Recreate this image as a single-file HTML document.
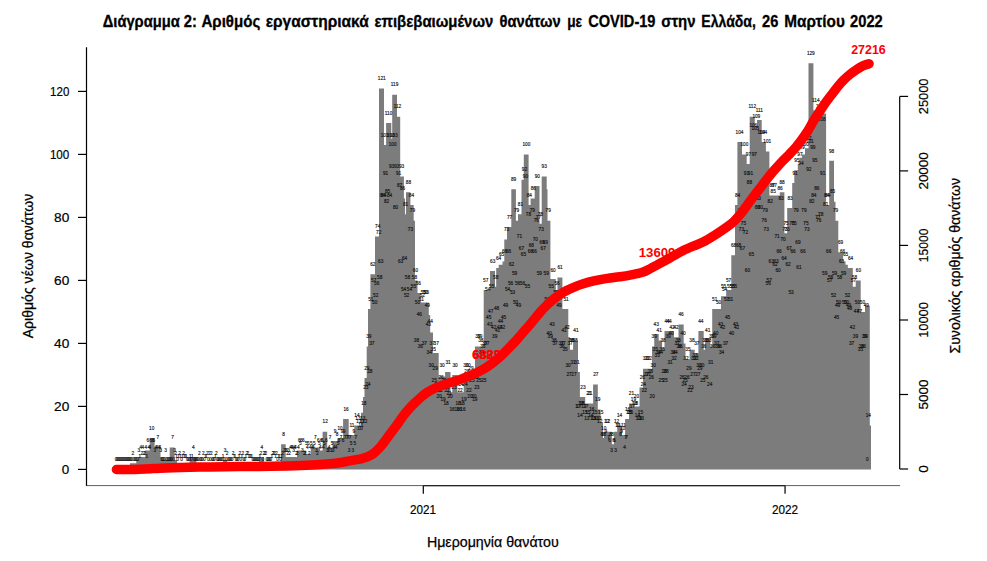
<!DOCTYPE html>
<html lang="el"><head><meta charset="utf-8"><title>Διάγραμμα 2</title>
<style>html,body{margin:0;padding:0;background:#fff}svg{display:block}text{font-family:"Liberation Sans",sans-serif}</style></head><body>
<svg width="987" height="561" viewBox="0 0 987 561">
<rect width="987" height="561" fill="#fff"/>
<path d="M130.0 469.5V463.2H136.3V460.1H138.0V456.9H145.2V450.6H149.7V438.0H154.6V447.4H160.5V456.9H162.0V460.1H169.7V447.4H174.6V460.1H177.0V463.2H189.6V456.9H196.4V463.2H222.9V460.1H227.4V463.2H258.9V456.9H263.9V463.2H281.1V444.3H285.7V456.9H297.0V450.6H306.0V453.8H310.8V447.4H320.0V450.6H322.6V431.7H327.2V447.4H332.5V441.1H337.5V438.0H343.1V419.1H348.7V434.9H354.3V425.4H361.0V412.8H363.0V397.1H364.5V378.1H366.7V346.6H368.0V308.9H370.4V274.2H375.0V236.4H379.0V88.4H384.0V145.1H386.1V123.0H391.3V138.8H392.2V94.7H397.0V116.7H400.2V176.6H403.9V198.6H405.0V214.3H406.0V192.3H410.4V204.9H413.7V220.7H415.0V280.5H417.5V293.1H420.7V302.6H428.8V315.1H430.2V332.5H433.0V352.9H438.7V376.6H445.1V371.9H450.5V392.3H452.3V375.0H457.3V392.3H463.7V375.0H475.0V346.6H483.7V290.0H490.0V271.1H495.0V286.8H496.2V267.9H498.7V264.8H502.5V261.6H504.3V239.6H507.0V227.0H511.3V189.2H515.9V220.7H518.0V214.3H521.5V179.7H523.8V154.5H528.6V204.9H530.6V198.6H534.7V186.0H539.5V223.8H541.7V176.6H546.7V189.2H547.5V220.7H550.4V278.9H555.8V293.1H557.5V277.4H562.4V308.9H563.3V308.9H568.3V337.2H570.0V349.8H573.1V340.4H578.0V371.9H579.9V397.1H585.2V403.4H593.1V384.4H597.8V409.6H600.6V422.2H603.0V438.0H604.0V431.7H611.9V444.3H614.0V431.7H617.2V425.4H621.9V434.9H625.1V419.1H629.0V403.4H634.2V406.5H639.5V387.6H643.0V368.7H652.0V346.6H654.2V334.1H658.7V340.4H662.1V348.2H664.5V330.9H673.9V337.2H678.5V324.6H683.7V343.5H685.5V359.2H689.6V349.8H694.7V352.9H698.4V330.9H703.7V349.8H705.1V340.4H710.4V346.6H712.2V308.9H721.0V296.2H726.2V290.0H731.3V255.3H735.0V204.9H737.4V141.9H742.0V154.5H746.7V163.9H749.7V116.7H754.8V126.2H757.0V119.9H761.7V141.9H765.9V151.4H769.4V195.4H779.8V192.3H784.4V233.2H787.2V208.1H792.2V182.9H794.3V170.2H797.8V163.9H799.5V157.7H802.0V154.5H805.0V148.2H808.5V63.2H813.4V110.4H818.2V116.7H820.7V113.6H826.1V204.9H829.2V160.8H834.0V201.8H835.5V220.7H838.3V252.2H843.1V261.6H845.5V264.8H847.8V267.9H852.8V286.8H855.7V280.5H860.7V312.0H865.0V305.7H869.8V425.4H871.0V469.5Z" fill="#7c7c7c"/>
<g font-size="4.7" fill="#111" stroke="#111" stroke-width="0.14" text-anchor="middle">
<text x="116.1" y="461.2">0</text><text x="117.1" y="461.2">0</text><text x="118.0" y="461.2">0</text><text x="119.0" y="461.2">0</text><text x="120.0" y="461.2">0</text><text x="121.0" y="461.2">0</text><text x="122.0" y="461.2">0</text><text x="123.0" y="461.2">0</text>
<text x="124.0" y="461.2">0</text><text x="125.0" y="461.2">0</text><text x="126.0" y="461.2">0</text><text x="127.0" y="461.2">0</text><text x="128.0" y="461.2">0</text><text x="128.9" y="461.2">0</text><text x="129.9" y="461.2">0</text><text x="130.9" y="461.2">0</text>
<text x="131.9" y="461.2">0</text><text x="132.9" y="454.9">2</text><text x="133.9" y="461.2">0</text><text x="134.9" y="461.2">0</text><text x="135.9" y="461.2">0</text><text x="136.9" y="461.2">0</text><text x="137.9" y="461.2">0</text><text x="138.9" y="451.8">3</text>
<text x="139.8" y="458.1">1</text><text x="140.8" y="448.6">4</text><text x="141.8" y="454.9">2</text><text x="142.8" y="448.6">4</text><text x="143.8" y="454.9">2</text><text x="144.8" y="454.9">2</text><text x="145.8" y="448.6">4</text><text x="146.8" y="458.1">1</text>
<text x="147.8" y="442.3">6</text><text x="148.8" y="448.6">4</text><text x="149.8" y="448.6">4</text><text x="150.7" y="442.3">6</text><text x="151.7" y="429.7">10</text><text x="152.7" y="442.3">6</text><text x="153.7" y="442.3">6</text><text x="154.7" y="451.8">3</text>
<text x="155.7" y="448.6">4</text><text x="156.7" y="448.6">4</text><text x="157.7" y="439.1">7</text><text x="158.7" y="448.6">4</text><text x="159.7" y="448.6">4</text><text x="160.7" y="451.8">3</text><text x="161.7" y="461.2">0</text><text x="162.6" y="461.2">0</text>
<text x="163.6" y="461.2">0</text><text x="164.6" y="461.2">0</text><text x="165.6" y="451.8">3</text><text x="166.6" y="461.2">0</text><text x="167.6" y="461.2">0</text><text x="168.6" y="461.2">0</text><text x="169.6" y="461.2">0</text><text x="170.6" y="461.2">0</text>
<text x="171.6" y="461.2">0</text><text x="172.6" y="439.1">7</text><text x="173.5" y="461.2">0</text><text x="174.5" y="451.8">3</text><text x="175.5" y="454.9">2</text><text x="176.5" y="458.1">1</text><text x="177.5" y="461.2">0</text><text x="178.5" y="458.1">1</text>
<text x="179.5" y="454.9">2</text><text x="180.5" y="458.1">1</text><text x="181.5" y="461.2">0</text><text x="182.5" y="458.1">1</text><text x="183.5" y="454.9">2</text><text x="184.4" y="458.1">1</text><text x="185.4" y="458.1">1</text><text x="186.4" y="458.1">1</text>
<text x="187.4" y="461.2">0</text><text x="188.4" y="461.2">0</text><text x="189.4" y="461.2">0</text><text x="190.4" y="458.1">1</text><text x="191.4" y="461.2">0</text><text x="192.4" y="458.1">1</text><text x="193.4" y="448.6">4</text><text x="194.4" y="461.2">0</text>
<text x="195.3" y="461.2">0</text><text x="196.3" y="461.2">0</text><text x="197.3" y="461.2">0</text><text x="198.3" y="461.2">0</text><text x="199.3" y="454.9">2</text><text x="200.3" y="461.2">0</text><text x="201.3" y="461.2">0</text><text x="202.3" y="461.2">0</text>
<text x="203.3" y="454.9">2</text><text x="204.3" y="461.2">0</text><text x="205.3" y="458.1">1</text><text x="206.3" y="458.1">1</text><text x="207.2" y="454.9">2</text><text x="208.2" y="461.2">0</text><text x="209.2" y="454.9">2</text><text x="210.2" y="461.2">0</text>
<text x="211.2" y="454.9">2</text><text x="212.2" y="461.2">0</text><text x="213.2" y="461.2">0</text><text x="214.2" y="461.2">0</text><text x="215.2" y="458.1">1</text><text x="216.2" y="454.9">2</text><text x="217.2" y="461.2">0</text><text x="218.1" y="461.2">0</text>
<text x="219.1" y="461.2">0</text><text x="220.1" y="461.2">0</text><text x="221.1" y="461.2">0</text><text x="222.1" y="461.2">0</text><text x="223.1" y="458.1">1</text><text x="224.1" y="461.2">0</text><text x="225.1" y="451.8">3</text><text x="226.1" y="461.2">0</text>
<text x="227.1" y="454.9">2</text><text x="228.1" y="461.2">0</text><text x="229.0" y="461.2">0</text><text x="230.0" y="461.2">0</text><text x="231.0" y="461.2">0</text><text x="232.0" y="461.2">0</text><text x="233.0" y="454.9">2</text><text x="234.0" y="458.1">1</text>
<text x="235.0" y="458.1">1</text><text x="236.0" y="461.2">0</text><text x="237.0" y="461.2">0</text><text x="238.0" y="461.2">0</text><text x="239.0" y="458.1">1</text><text x="239.9" y="454.9">2</text><text x="240.9" y="461.2">0</text><text x="241.9" y="458.1">1</text>
<text x="242.9" y="454.9">2</text><text x="243.9" y="461.2">0</text><text x="244.9" y="461.2">0</text><text x="245.9" y="458.1">1</text><text x="246.9" y="454.9">2</text><text x="247.9" y="454.9">2</text><text x="248.9" y="458.1">1</text><text x="249.9" y="458.1">1</text>
<text x="250.8" y="458.1">1</text><text x="251.8" y="458.1">1</text><text x="252.8" y="461.2">0</text><text x="253.8" y="461.2">0</text><text x="254.8" y="461.2">0</text><text x="255.8" y="461.2">0</text><text x="256.8" y="461.2">0</text><text x="257.8" y="461.2">0</text>
<text x="258.8" y="461.2">0</text><text x="259.8" y="458.1">1</text><text x="260.8" y="454.9">2</text><text x="261.8" y="448.6">4</text><text x="262.7" y="461.2">0</text><text x="263.7" y="454.9">2</text><text x="264.7" y="454.9">2</text><text x="265.7" y="454.9">2</text>
<text x="266.7" y="461.2">0</text><text x="267.7" y="461.2">0</text><text x="268.7" y="461.2">0</text><text x="269.7" y="461.2">0</text><text x="270.7" y="461.2">0</text><text x="271.7" y="458.1">1</text><text x="272.7" y="454.9">2</text><text x="273.6" y="454.9">2</text>
<text x="274.6" y="454.9">2</text><text x="275.6" y="458.1">1</text><text x="276.6" y="454.9">2</text><text x="277.6" y="461.2">0</text><text x="278.6" y="458.1">1</text><text x="279.6" y="458.1">1</text><text x="280.6" y="461.2">0</text><text x="281.6" y="458.1">1</text>
<text x="282.6" y="454.9">2</text><text x="283.6" y="436.0">8</text><text x="284.5" y="451.8">3</text><text x="285.5" y="451.8">3</text><text x="286.5" y="451.8">3</text><text x="287.5" y="454.9">2</text><text x="288.5" y="451.8">3</text><text x="289.5" y="454.9">2</text>
<text x="290.5" y="448.6">4</text><text x="291.5" y="448.6">4</text><text x="292.5" y="448.6">4</text><text x="293.5" y="451.8">3</text><text x="294.5" y="448.6">4</text><text x="295.4" y="448.6">4</text><text x="296.4" y="454.9">2</text><text x="297.4" y="454.9">2</text>
<text x="298.4" y="448.6">4</text><text x="299.4" y="442.3">6</text><text x="300.4" y="445.4">5</text><text x="301.4" y="442.3">6</text><text x="302.4" y="451.8">3</text><text x="303.4" y="442.3">6</text><text x="304.4" y="454.9">2</text><text x="305.4" y="454.9">2</text>
<text x="306.4" y="445.4">5</text><text x="307.3" y="448.6">4</text><text x="308.3" y="445.4">5</text><text x="309.3" y="454.9">2</text><text x="310.3" y="448.6">4</text><text x="311.3" y="445.4">5</text><text x="312.3" y="448.6">4</text><text x="313.3" y="448.6">4</text>
<text x="314.3" y="445.4">5</text><text x="315.3" y="439.1">7</text><text x="316.3" y="451.8">3</text><text x="317.3" y="454.9">2</text><text x="318.2" y="442.3">6</text><text x="319.2" y="445.4">5</text><text x="320.2" y="448.6">4</text><text x="321.2" y="442.3">6</text>
<text x="322.2" y="442.3">6</text><text x="323.2" y="448.6">4</text><text x="324.2" y="445.4">5</text><text x="325.2" y="423.4">12</text><text x="326.2" y="442.3">6</text><text x="327.2" y="451.8">3</text><text x="328.2" y="451.8">3</text><text x="329.1" y="448.6">4</text>
<text x="330.1" y="439.1">7</text><text x="331.1" y="451.8">3</text><text x="332.1" y="445.4">5</text><text x="333.1" y="451.8">3</text><text x="334.1" y="448.6">4</text><text x="335.1" y="432.8">9</text><text x="336.1" y="448.6">4</text><text x="337.1" y="436.0">8</text>
<text x="338.1" y="445.4">5</text><text x="339.1" y="442.3">6</text><text x="340.0" y="429.7">10</text><text x="341.0" y="439.1">7</text><text x="342.0" y="432.8">9</text><text x="343.0" y="442.3">6</text><text x="344.0" y="432.8">9</text><text x="345.0" y="439.1">7</text>
<text x="346.0" y="410.8">16</text><text x="347.0" y="439.1">7</text><text x="348.0" y="439.1">7</text><text x="349.0" y="451.8">3</text><text x="350.0" y="439.1">7</text><text x="351.0" y="445.4">5</text><text x="351.9" y="426.6">11</text><text x="352.9" y="451.8">3</text>
<text x="353.9" y="432.8">9</text><text x="354.9" y="445.4">5</text><text x="355.9" y="439.1">7</text><text x="356.9" y="417.1">14</text><text x="357.9" y="420.2">13</text><text x="358.9" y="423.4">12</text><text x="359.9" y="429.7">10</text><text x="360.9" y="426.6">11</text>
<text x="361.9" y="423.4">12</text><text x="362.8" y="420.2">13</text><text x="363.8" y="404.5">18</text><text x="364.8" y="423.4">12</text><text x="365.8" y="388.8">23</text><text x="366.8" y="369.8">29</text><text x="367.8" y="385.6">24</text><text x="368.8" y="338.3">39</text>
<text x="369.8" y="373.0">28</text><text x="370.8" y="300.6">51</text><text x="371.8" y="344.6">37</text><text x="372.8" y="265.9">62</text><text x="373.7" y="281.7">57</text><text x="374.7" y="303.7">50</text><text x="375.7" y="297.4">52</text><text x="376.7" y="284.8">56</text>
<text x="377.7" y="228.1">74</text><text x="378.7" y="234.4">72</text><text x="379.7" y="278.5">58</text><text x="380.7" y="262.8">63</text><text x="381.7" y="80.1">121</text><text x="382.7" y="196.6">84</text><text x="383.7" y="196.6">84</text><text x="384.6" y="136.8">103</text>
<text x="385.6" y="174.6">91</text><text x="386.6" y="202.9">82</text><text x="387.6" y="193.4">85</text><text x="388.6" y="114.7">110</text><text x="389.6" y="196.6">84</text><text x="390.6" y="136.8">103</text><text x="391.6" y="168.2">93</text><text x="392.6" y="146.2">100</text>
<text x="393.6" y="136.8">103</text><text x="394.6" y="86.4">119</text><text x="395.6" y="209.2">80</text><text x="396.5" y="168.2">93</text><text x="397.5" y="108.4">112</text><text x="398.5" y="174.6">91</text><text x="399.5" y="187.1">87</text><text x="400.5" y="262.8">63</text>
<text x="401.5" y="168.2">93</text><text x="402.5" y="190.3">86</text><text x="403.5" y="291.1">54</text><text x="404.5" y="259.6">64</text><text x="405.5" y="206.0">81</text><text x="406.5" y="297.4">52</text><text x="407.4" y="278.5">58</text><text x="408.4" y="184.0">88</text>
<text x="409.4" y="291.1">54</text><text x="410.4" y="231.2">73</text><text x="411.4" y="196.6">84</text><text x="412.4" y="212.3">79</text><text x="413.4" y="287.9">55</text><text x="414.4" y="278.5">58</text><text x="415.4" y="272.2">60</text><text x="416.4" y="341.5">38</text>
<text x="417.4" y="303.7">50</text><text x="418.3" y="284.8">56</text><text x="419.3" y="316.3">46</text><text x="420.3" y="347.8">36</text><text x="421.3" y="300.6">51</text><text x="422.3" y="297.4">52</text><text x="423.3" y="294.2">53</text><text x="424.3" y="344.6">37</text>
<text x="425.3" y="294.2">53</text><text x="426.3" y="294.2">53</text><text x="427.3" y="306.8">49</text><text x="428.3" y="325.8">43</text><text x="429.2" y="354.1">34</text><text x="430.2" y="322.6">44</text><text x="431.2" y="366.7">30</text><text x="432.2" y="344.6">37</text>
<text x="433.2" y="350.9">35</text><text x="434.2" y="382.4">25</text><text x="435.2" y="369.8">29</text><text x="436.2" y="344.6">37</text><text x="437.2" y="385.6">24</text><text x="438.2" y="391.9">22</text><text x="439.2" y="398.2">20</text><text x="440.1" y="391.9">22</text>
<text x="441.1" y="379.3">26</text><text x="442.1" y="366.7">30</text><text x="443.1" y="401.3">19</text><text x="444.1" y="382.4">25</text><text x="445.1" y="388.8">23</text><text x="446.1" y="404.5">18</text><text x="447.1" y="391.9">22</text><text x="448.1" y="363.6">31</text>
<text x="449.1" y="395.1">21</text><text x="450.1" y="398.2">20</text><text x="451.1" y="385.6">24</text><text x="452.0" y="410.8">16</text><text x="453.0" y="385.6">24</text><text x="454.0" y="388.8">23</text><text x="455.0" y="366.7">30</text><text x="456.0" y="385.6">24</text>
<text x="457.0" y="410.8">16</text><text x="458.0" y="404.5">18</text><text x="459.0" y="410.8">16</text><text x="460.0" y="391.9">22</text><text x="461.0" y="385.6">24</text><text x="462.0" y="404.5">18</text><text x="462.9" y="410.8">16</text><text x="463.9" y="401.3">19</text>
<text x="464.9" y="385.6">24</text><text x="465.9" y="366.7">30</text><text x="466.9" y="373.0">28</text><text x="467.9" y="366.7">30</text><text x="468.9" y="391.9">22</text><text x="469.9" y="398.2">20</text><text x="470.9" y="369.8">29</text><text x="471.9" y="382.4">25</text>
<text x="472.9" y="376.1">27</text><text x="473.8" y="398.2">20</text><text x="474.8" y="401.3">19</text><text x="475.8" y="379.3">26</text><text x="476.8" y="388.8">23</text><text x="477.8" y="338.3">39</text><text x="478.8" y="382.4">25</text><text x="479.8" y="338.3">39</text>
<text x="480.8" y="341.5">38</text><text x="481.8" y="354.1">34</text><text x="482.8" y="347.8">36</text><text x="483.8" y="382.4">25</text><text x="484.7" y="344.6">37</text><text x="485.7" y="281.7">57</text><text x="486.7" y="344.6">37</text><text x="487.7" y="291.1">54</text>
<text x="488.7" y="319.4">45</text><text x="489.7" y="325.8">43</text><text x="490.7" y="313.2">47</text><text x="491.7" y="287.9">55</text><text x="492.7" y="262.8">63</text><text x="493.7" y="328.9">42</text><text x="494.7" y="338.3">39</text><text x="495.7" y="278.5">58</text>
<text x="496.6" y="310.0">48</text><text x="497.6" y="332.1">41</text><text x="498.6" y="259.6">64</text><text x="499.6" y="328.9">42</text><text x="500.6" y="322.6">44</text><text x="501.6" y="256.4">65</text><text x="502.6" y="328.9">42</text><text x="503.6" y="319.4">45</text>
<text x="504.6" y="253.3">66</text><text x="505.6" y="306.8">49</text><text x="506.6" y="231.2">73</text><text x="507.5" y="291.1">54</text><text x="508.5" y="253.3">66</text><text x="509.5" y="218.7">77</text><text x="510.5" y="284.8">56</text><text x="511.5" y="265.9">62</text>
<text x="512.5" y="294.2">53</text><text x="513.5" y="180.9">89</text><text x="514.5" y="275.3">59</text><text x="515.5" y="303.7">50</text><text x="516.5" y="212.3">79</text><text x="517.5" y="284.8">56</text><text x="518.4" y="306.8">49</text><text x="519.4" y="237.5">71</text>
<text x="520.4" y="206.0">81</text><text x="521.4" y="250.2">67</text><text x="522.4" y="284.8">56</text><text x="523.4" y="256.4">65</text><text x="524.4" y="171.4">92</text><text x="525.4" y="177.7">90</text><text x="526.4" y="146.2">100</text><text x="527.4" y="287.9">55</text>
<text x="528.4" y="215.5">78</text><text x="529.3" y="196.6">84</text><text x="530.3" y="253.3">66</text><text x="531.3" y="247.0">68</text><text x="532.3" y="212.3">79</text><text x="533.3" y="190.3">86</text><text x="534.3" y="253.3">66</text><text x="535.3" y="240.7">70</text>
<text x="536.3" y="221.8">76</text><text x="537.3" y="177.7">90</text><text x="538.3" y="218.7">77</text><text x="539.3" y="275.3">59</text><text x="540.3" y="215.5">78</text><text x="541.2" y="231.2">73</text><text x="542.2" y="243.8">69</text><text x="543.2" y="250.2">67</text>
<text x="544.2" y="168.2">93</text><text x="545.2" y="243.8">69</text><text x="546.2" y="275.3">59</text><text x="547.2" y="300.6">51</text><text x="548.2" y="212.3">79</text><text x="549.2" y="335.2">40</text><text x="550.2" y="338.3">39</text><text x="551.2" y="287.9">55</text>
<text x="552.1" y="325.8">43</text><text x="553.1" y="272.2">60</text><text x="554.1" y="341.5">38</text><text x="555.1" y="344.6">37</text><text x="556.1" y="294.2">53</text><text x="557.1" y="284.8">56</text><text x="558.1" y="294.2">53</text><text x="559.1" y="306.8">49</text>
<text x="560.1" y="269.1">61</text><text x="561.1" y="344.6">37</text><text x="562.1" y="347.8">36</text><text x="563.0" y="344.6">37</text><text x="564.0" y="332.1">41</text><text x="565.0" y="350.9">35</text><text x="566.0" y="300.6">51</text><text x="567.0" y="328.9">42</text>
<text x="568.0" y="366.7">30</text><text x="569.0" y="376.1">27</text><text x="570.0" y="344.6">37</text><text x="571.0" y="341.5">38</text><text x="572.0" y="341.5">38</text><text x="573.0" y="363.6">31</text><text x="573.9" y="376.1">27</text><text x="574.9" y="341.5">38</text>
<text x="575.9" y="332.1">41</text><text x="576.9" y="363.6">31</text><text x="577.9" y="407.6">17</text><text x="578.9" y="407.6">17</text><text x="579.9" y="417.1">14</text><text x="580.9" y="404.5">18</text><text x="581.9" y="404.5">18</text><text x="582.9" y="388.8">23</text>
<text x="583.9" y="407.6">17</text><text x="584.9" y="413.9">15</text><text x="585.8" y="407.6">17</text><text x="586.8" y="420.2">13</text><text x="587.8" y="413.9">15</text><text x="588.8" y="395.1">21</text><text x="589.8" y="395.1">21</text><text x="590.8" y="417.1">14</text>
<text x="591.8" y="410.8">16</text><text x="592.8" y="420.2">13</text><text x="593.8" y="420.2">13</text><text x="594.8" y="413.9">15</text><text x="595.8" y="376.1">27</text><text x="596.7" y="420.2">13</text><text x="597.7" y="401.3">19</text><text x="598.7" y="420.2">13</text>
<text x="599.7" y="423.4">12</text><text x="600.7" y="413.9">15</text><text x="601.7" y="436.0">8</text><text x="602.7" y="436.0">8</text><text x="603.7" y="429.7">10</text><text x="604.7" y="436.0">8</text><text x="605.7" y="432.8">9</text><text x="606.7" y="423.4">12</text>
<text x="607.6" y="423.4">12</text><text x="608.6" y="439.1">7</text><text x="609.6" y="442.3">6</text><text x="610.6" y="436.0">8</text><text x="611.6" y="451.8">3</text><text x="612.6" y="436.0">8</text><text x="613.6" y="442.3">6</text><text x="614.6" y="442.3">6</text>
<text x="615.6" y="451.8">3</text><text x="616.6" y="423.4">12</text><text x="617.6" y="426.6">11</text><text x="618.5" y="426.6">11</text><text x="619.5" y="417.1">14</text><text x="620.5" y="436.0">8</text><text x="621.5" y="432.8">9</text><text x="622.5" y="429.7">10</text>
<text x="623.5" y="426.6">11</text><text x="624.5" y="448.6">4</text><text x="625.5" y="439.1">7</text><text x="626.5" y="439.1">7</text><text x="627.5" y="410.8">16</text><text x="628.5" y="413.9">15</text><text x="629.4" y="413.9">15</text><text x="630.4" y="413.9">15</text>
<text x="631.4" y="395.1">21</text><text x="632.4" y="407.6">17</text><text x="633.4" y="401.3">19</text><text x="634.4" y="404.5">18</text><text x="635.4" y="404.5">18</text><text x="636.4" y="398.2">20</text><text x="637.4" y="417.1">14</text><text x="638.4" y="420.2">13</text>
<text x="639.4" y="420.2">13</text><text x="640.4" y="413.9">15</text><text x="641.3" y="420.2">13</text><text x="642.3" y="379.3">26</text><text x="643.3" y="385.6">24</text><text x="644.3" y="391.9">22</text><text x="645.3" y="360.4">32</text><text x="646.3" y="376.1">27</text>
<text x="647.3" y="360.4">32</text><text x="648.3" y="376.1">27</text><text x="649.3" y="360.4">32</text><text x="650.3" y="373.0">28</text><text x="651.3" y="379.3">26</text><text x="652.2" y="398.2">20</text><text x="653.2" y="366.7">30</text><text x="654.2" y="338.3">39</text>
<text x="655.2" y="350.9">35</text><text x="656.2" y="325.8">43</text><text x="657.2" y="357.2">33</text><text x="658.2" y="354.1">34</text><text x="659.2" y="332.1">41</text><text x="660.2" y="354.1">34</text><text x="661.2" y="382.4">25</text><text x="662.2" y="350.9">35</text>
<text x="663.1" y="341.5">38</text><text x="664.1" y="373.0">28</text><text x="665.1" y="382.4">25</text><text x="666.1" y="373.0">28</text><text x="667.1" y="322.6">44</text><text x="668.1" y="338.3">39</text><text x="669.1" y="322.6">44</text><text x="670.1" y="363.6">31</text>
<text x="671.1" y="335.2">40</text><text x="672.1" y="328.9">42</text><text x="673.1" y="354.1">34</text><text x="674.0" y="360.4">32</text><text x="675.0" y="354.1">34</text><text x="676.0" y="328.9">42</text><text x="677.0" y="344.6">37</text><text x="678.0" y="341.5">38</text>
<text x="679.0" y="347.8">36</text><text x="680.0" y="347.8">36</text><text x="681.0" y="316.3">46</text><text x="682.0" y="379.3">26</text><text x="683.0" y="335.2">40</text><text x="684.0" y="385.6">24</text><text x="685.0" y="382.4">25</text><text x="685.9" y="360.4">32</text>
<text x="686.9" y="379.3">26</text><text x="687.9" y="350.9">35</text><text x="688.9" y="369.8">29</text><text x="689.9" y="391.9">22</text><text x="690.9" y="388.8">23</text><text x="691.9" y="341.5">38</text><text x="692.9" y="376.1">27</text><text x="693.9" y="360.4">32</text>
<text x="694.9" y="357.2">33</text><text x="695.9" y="360.4">32</text><text x="696.8" y="344.6">37</text><text x="697.8" y="376.1">27</text><text x="698.8" y="366.7">30</text><text x="699.8" y="369.8">29</text><text x="700.8" y="322.6">44</text><text x="701.8" y="366.7">30</text>
<text x="702.8" y="382.4">25</text><text x="703.8" y="347.8">36</text><text x="704.8" y="341.5">38</text><text x="705.8" y="379.3">26</text><text x="706.8" y="341.5">38</text><text x="707.7" y="332.1">41</text><text x="708.7" y="341.5">38</text><text x="709.7" y="385.6">24</text>
<text x="710.7" y="363.6">31</text><text x="711.7" y="338.3">39</text><text x="712.7" y="347.8">36</text><text x="713.7" y="338.3">39</text><text x="714.7" y="300.6">51</text><text x="715.7" y="335.2">40</text><text x="716.7" y="344.6">37</text><text x="717.7" y="347.8">36</text>
<text x="718.6" y="303.7">50</text><text x="719.6" y="347.8">36</text><text x="720.6" y="325.8">43</text><text x="721.6" y="354.1">34</text><text x="722.6" y="328.9">42</text><text x="723.6" y="287.9">55</text><text x="724.6" y="291.1">54</text><text x="725.6" y="344.6">37</text>
<text x="726.6" y="300.6">51</text><text x="727.6" y="319.4">45</text><text x="728.6" y="281.7">57</text><text x="729.6" y="287.9">55</text><text x="730.5" y="300.6">51</text><text x="731.5" y="335.2">40</text><text x="732.5" y="287.9">55</text><text x="733.5" y="247.0">68</text>
<text x="734.5" y="287.9">55</text><text x="735.5" y="325.8">43</text><text x="736.5" y="328.9">42</text><text x="737.5" y="196.6">84</text><text x="738.5" y="247.0">68</text><text x="739.5" y="133.6">104</text><text x="740.5" y="212.3">79</text><text x="741.4" y="231.2">73</text>
<text x="742.4" y="250.2">67</text><text x="743.4" y="224.9">75</text><text x="744.4" y="146.2">100</text><text x="745.4" y="234.4">72</text><text x="746.4" y="174.6">91</text><text x="747.4" y="272.2">60</text><text x="748.4" y="155.6">97</text><text x="749.4" y="184.0">88</text>
<text x="750.4" y="174.6">91</text><text x="751.4" y="256.4">65</text><text x="752.3" y="108.4">112</text><text x="753.3" y="127.3">106</text><text x="754.3" y="155.6">97</text><text x="755.3" y="130.4">105</text><text x="756.3" y="117.9">109</text><text x="757.3" y="209.2">80</text>
<text x="758.3" y="199.8">83</text><text x="759.3" y="111.6">111</text><text x="760.3" y="209.2">80</text><text x="761.3" y="133.6">104</text><text x="762.3" y="184.0">88</text><text x="763.2" y="133.6">104</text><text x="764.2" y="221.8">76</text><text x="765.2" y="212.3">79</text>
<text x="766.2" y="231.2">73</text><text x="767.2" y="143.1">101</text><text x="768.2" y="284.8">56</text><text x="769.2" y="281.7">57</text><text x="770.2" y="202.9">82</text><text x="771.2" y="262.8">63</text><text x="772.2" y="187.1">87</text><text x="773.2" y="193.4">85</text>
<text x="774.2" y="187.1">87</text><text x="775.1" y="265.9">62</text><text x="776.1" y="262.8">63</text><text x="777.1" y="237.5">71</text><text x="778.1" y="272.2">60</text><text x="779.1" y="253.3">66</text><text x="780.1" y="190.3">86</text><text x="781.1" y="199.8">83</text>
<text x="782.1" y="184.0">88</text><text x="783.1" y="240.7">70</text><text x="784.1" y="259.6">64</text><text x="785.1" y="231.2">73</text><text x="786.0" y="224.9">75</text><text x="787.0" y="231.2">73</text><text x="788.0" y="265.9">62</text><text x="789.0" y="250.2">67</text>
<text x="790.0" y="199.8">83</text><text x="791.0" y="294.2">53</text><text x="792.0" y="224.9">75</text><text x="793.0" y="253.3">66</text><text x="794.0" y="224.9">75</text><text x="795.0" y="174.6">91</text><text x="796.0" y="212.3">79</text><text x="796.9" y="161.9">95</text>
<text x="797.9" y="243.8">69</text><text x="798.9" y="269.1">61</text><text x="799.9" y="155.6">97</text><text x="800.9" y="165.1">94</text><text x="801.9" y="149.4">99</text><text x="802.9" y="253.3">66</text><text x="803.9" y="212.3">79</text><text x="804.9" y="146.2">100</text>
<text x="805.9" y="224.9">75</text><text x="806.9" y="231.2">73</text><text x="807.8" y="139.9">102</text><text x="808.8" y="171.4">92</text><text x="809.8" y="143.1">101</text><text x="810.8" y="54.9">129</text><text x="811.8" y="202.9">82</text><text x="812.8" y="149.4">99</text>
<text x="813.8" y="196.6">84</text><text x="814.8" y="161.9">95</text><text x="815.8" y="102.1">114</text><text x="816.8" y="190.3">86</text><text x="817.8" y="218.7">77</text><text x="818.7" y="221.8">76</text><text x="819.7" y="108.4">112</text><text x="820.7" y="215.5">78</text>
<text x="821.7" y="121.0">108</text><text x="822.7" y="174.6">91</text><text x="823.7" y="105.3">113</text><text x="824.7" y="275.3">59</text><text x="825.7" y="206.0">81</text><text x="826.7" y="196.6">84</text><text x="827.7" y="196.6">84</text><text x="828.7" y="253.3">66</text>
<text x="829.7" y="281.7">57</text><text x="830.6" y="278.5">58</text><text x="831.6" y="152.5">98</text><text x="832.6" y="193.4">85</text><text x="833.6" y="297.4">52</text><text x="834.6" y="275.3">59</text><text x="835.6" y="212.3">79</text><text x="836.6" y="319.4">45</text>
<text x="837.6" y="306.8">49</text><text x="838.6" y="303.7">50</text><text x="839.6" y="278.5">58</text><text x="840.6" y="243.8">69</text><text x="841.5" y="262.8">63</text><text x="842.5" y="253.3">66</text><text x="843.5" y="275.3">59</text><text x="844.5" y="303.7">50</text>
<text x="845.5" y="256.4">65</text><text x="846.5" y="303.7">50</text><text x="847.5" y="297.4">52</text><text x="848.5" y="306.8">49</text><text x="849.5" y="310.0">48</text><text x="850.5" y="259.6">64</text><text x="851.5" y="344.6">37</text><text x="852.4" y="328.9">42</text>
<text x="853.4" y="281.7">57</text><text x="854.4" y="278.5">58</text><text x="855.4" y="338.3">39</text><text x="856.4" y="313.2">47</text><text x="857.4" y="303.7">50</text><text x="858.4" y="272.2">60</text><text x="859.4" y="313.2">47</text><text x="860.4" y="350.9">35</text>
<text x="861.4" y="347.8">36</text><text x="862.4" y="303.7">50</text><text x="863.3" y="347.8">36</text><text x="864.3" y="338.3">39</text><text x="865.3" y="338.3">39</text><text x="866.3" y="306.8">49</text><text x="867.3" y="461.2">0</text><text x="868.3" y="417.1">14</text>

</g>
<path d="M116.4 469.5C119.5 469.5 129.3 469.5 135.0 469.4C140.7 469.3 145.6 468.9 150.7 468.7C155.8 468.4 160.6 468.1 165.6 467.9C170.6 467.7 173.1 467.6 180.5 467.4C187.9 467.2 200.1 467.0 210.0 466.9C219.9 466.8 229.9 466.7 240.0 466.6C250.1 466.5 260.6 466.5 270.8 466.3C281.1 466.1 291.6 465.8 301.5 465.4C311.4 465.0 323.2 464.3 330.0 463.8C336.8 463.3 338.3 462.9 342.5 462.2C346.7 461.5 351.9 460.5 355.0 459.9C358.1 459.3 359.1 459.3 361.2 458.8C363.3 458.3 365.3 457.8 367.4 456.9C369.5 456.0 371.6 455.0 373.7 453.4C375.8 451.8 377.8 449.7 379.9 447.4C382.0 445.1 384.1 442.2 386.2 439.4C388.3 436.6 390.3 433.6 392.4 430.8C394.5 428.0 396.9 424.9 398.6 422.6C400.3 420.3 400.8 419.0 402.5 416.8C404.2 414.6 406.6 411.5 408.7 409.2C410.8 406.9 412.9 404.8 415.0 402.8C417.1 400.8 419.1 398.8 421.2 397.0C423.3 395.2 425.3 393.7 427.4 392.3C429.5 390.9 431.6 389.8 433.7 388.8C435.8 387.8 437.8 386.9 439.9 386.1C442.0 385.3 444.1 384.6 446.2 383.9C448.3 383.2 449.7 382.8 452.4 381.9C455.1 381.0 458.7 380.0 462.5 378.6C466.3 377.2 470.9 375.6 475.0 373.6C479.1 371.6 483.2 369.6 487.4 366.8C491.5 364.0 495.7 360.7 499.9 357.0C504.1 353.3 509.0 347.9 512.4 344.4C515.8 340.9 517.3 339.1 520.0 336.0C522.7 332.9 526.2 328.9 528.7 326.0C531.2 323.1 532.9 321.0 535.0 318.5C537.1 316.0 539.1 313.3 541.2 311.0C543.3 308.7 545.3 306.6 547.4 304.6C549.5 302.6 551.6 300.7 553.7 299.0C555.8 297.3 557.8 296.0 559.9 294.6C562.0 293.2 564.1 291.9 566.2 290.8C568.3 289.7 569.7 288.9 572.4 287.8C575.1 286.7 578.7 285.2 582.5 284.0C586.3 282.8 590.9 281.6 595.0 280.7C599.1 279.8 603.2 279.0 607.4 278.4C611.5 277.8 615.7 277.4 619.9 276.8C624.1 276.2 628.6 275.4 632.4 274.6C636.2 273.9 639.5 273.3 642.5 272.3C645.5 271.3 647.6 270.0 650.7 268.4C653.9 266.8 657.8 264.6 661.4 262.6C665.0 260.7 668.5 258.7 672.1 256.7C675.7 254.7 679.2 252.6 682.8 250.8C686.4 249.0 690.2 247.4 693.5 246.0C696.8 244.6 698.9 244.1 702.5 242.3C706.1 240.5 710.9 237.6 715.0 235.0C719.1 232.4 724.3 228.8 727.4 226.6C730.5 224.4 731.6 223.6 733.7 221.6C735.8 219.6 737.8 217.3 739.9 214.8C742.0 212.3 744.1 209.4 746.2 206.6C748.3 203.8 750.3 200.8 752.4 198.0C754.5 195.2 756.7 192.4 758.6 190.0C760.5 187.6 761.8 185.8 763.7 183.3C765.6 180.8 767.9 177.8 770.0 175.2C772.1 172.6 774.1 170.3 776.2 168.0C778.3 165.7 780.3 163.5 782.4 161.3C784.5 159.1 786.6 157.2 788.7 155.0C790.8 152.8 792.8 150.8 794.9 148.4C797.0 146.0 799.1 143.2 801.2 140.4C803.3 137.6 805.4 134.7 807.5 131.4C809.6 128.1 811.6 124.0 813.7 120.6C815.8 117.2 817.9 114.1 820.0 111.0C822.1 107.9 824.1 104.7 826.2 101.8C828.3 98.9 830.4 96.2 832.4 93.6C834.4 91.0 836.1 88.6 838.1 86.2C840.1 83.8 842.2 81.5 844.3 79.4C846.4 77.4 848.5 75.6 850.6 73.9C852.7 72.2 854.8 70.7 856.8 69.4C858.8 68.1 860.4 67.0 862.4 66.1C864.4 65.1 867.9 64.1 869.0 63.7" fill="none" stroke="#ff0000" stroke-width="9.5" stroke-linecap="round" stroke-linejoin="round"/>
<g font-size="13" font-weight="bold" fill="#ff0000">
<text x="471.9" y="358.7" textLength="28.4" lengthAdjust="spacingAndGlyphs">6882</text>
<text x="472.6" y="358.7" textLength="28.4" lengthAdjust="spacingAndGlyphs">6829</text>
<text x="638.7" y="256.8" textLength="36.8" lengthAdjust="spacingAndGlyphs">13609</text>
<text x="851.2" y="54" textLength="34.6" lengthAdjust="spacingAndGlyphs">27216</text>
</g>
<g stroke="#000" stroke-width="1.2" fill="none">
<path d="M86.5 47.3V486.1"/>
<path d="M78 469.4H86.5"/><path d="M78 406.4H86.5"/><path d="M78 343.4H86.5"/><path d="M78 280.4H86.5"/><path d="M78 217.4H86.5"/><path d="M78 154.4H86.5"/><path d="M78 91.4H86.5"/>
<path d="M423.3 485.6H785.05M423.3 485.6V493.8M785.05 485.6V493.8"/>
<path d="M899.7 96.4V469.0"/>
<path d="M899.7 469.0H908.1"/><path d="M899.7 394.5H908.1"/><path d="M899.7 320.0H908.1"/><path d="M899.7 245.4H908.1"/><path d="M899.7 170.9H908.1"/><path d="M899.7 96.4H908.1"/>
</g>
<path d="M86.5 485.6H900.1" stroke="#333" stroke-width="0.8" fill="none"/>
<g font-size="13.7" fill="#000" stroke="#000" stroke-width="0.2">
<text x="61.8" y="474.1" textLength="7.5" lengthAdjust="spacingAndGlyphs">0</text><text x="54.1" y="411.1" textLength="15.2" lengthAdjust="spacingAndGlyphs">20</text><text x="54.1" y="348.1" textLength="15.2" lengthAdjust="spacingAndGlyphs">40</text><text x="54.1" y="285.1" textLength="15.2" lengthAdjust="spacingAndGlyphs">60</text><text x="54.1" y="222.1" textLength="15.2" lengthAdjust="spacingAndGlyphs">80</text><text x="49.9" y="159.1" textLength="19.4" lengthAdjust="spacingAndGlyphs">100</text><text x="50.1" y="96.1" textLength="19.2" lengthAdjust="spacingAndGlyphs">120</text>
<text x="409.9" y="514.1" textLength="26" lengthAdjust="spacingAndGlyphs">2021</text><text x="771.9" y="514.1" textLength="26.1" lengthAdjust="spacingAndGlyphs">2022</text>
<text transform="translate(928.4 472.8) rotate(-90)" textLength="7.5" lengthAdjust="spacingAndGlyphs">0</text><text transform="translate(928.4 409.5) rotate(-90)" textLength="30.1" lengthAdjust="spacingAndGlyphs">5000</text><text transform="translate(928.4 337.8) rotate(-90)" textLength="35.6" lengthAdjust="spacingAndGlyphs">10000</text><text transform="translate(928.4 262.2) rotate(-90)" textLength="33.6" lengthAdjust="spacingAndGlyphs">15000</text><text transform="translate(928.4 189.6) rotate(-90)" textLength="37.4" lengthAdjust="spacingAndGlyphs">20000</text><text transform="translate(928.4 114.2) rotate(-90)" textLength="35.6" lengthAdjust="spacingAndGlyphs">25000</text>
</g>
<g font-size="14.3" fill="#000" stroke="#000" stroke-width="0.25">
<text x="426.9" y="547.1" textLength="131.8" lengthAdjust="spacingAndGlyphs">Ημερομηνία θανάτου</text>
<text transform="translate(33.2 338.3) rotate(-90)" textLength="144.6" lengthAdjust="spacingAndGlyphs">Αριθμός νέων θανάτων</text>
<text transform="translate(959.7 353.6) rotate(-90)" textLength="175.6" lengthAdjust="spacingAndGlyphs">Συνολικός αριθμός θανάτων</text>
</g>
<g font-size="16.4" font-weight="bold" fill="#000" stroke="#000" stroke-width="0.3">
<text x="102.75" y="26.6" textLength="94.2" lengthAdjust="spacingAndGlyphs">Διάγραμμα 2:</text>
<text x="201.4" y="26.6" textLength="58.9" lengthAdjust="spacingAndGlyphs">Αριθμός</text>
<text x="265.7" y="26.6" textLength="103.0" lengthAdjust="spacingAndGlyphs">εργαστηριακά</text>
<text x="374.5" y="26.6" textLength="118.8" lengthAdjust="spacingAndGlyphs">επιβεβαιωμένων</text>
<text x="499.5" y="26.6" textLength="61.1" lengthAdjust="spacingAndGlyphs">θανάτων</text>
<text x="567.2" y="26.6" textLength="14.9" lengthAdjust="spacingAndGlyphs">με</text>
<text x="588.2" y="26.6" textLength="67.3" lengthAdjust="spacingAndGlyphs">COVID-19</text>
<text x="661.2" y="26.6" textLength="34.4" lengthAdjust="spacingAndGlyphs">στην</text>
<text x="701.3" y="26.6" textLength="54.6" lengthAdjust="spacingAndGlyphs">Ελλάδα,</text>
<text x="762" y="26.6" textLength="16.3" lengthAdjust="spacingAndGlyphs">26</text>
<text x="784.3" y="26.6" textLength="60.6" lengthAdjust="spacingAndGlyphs">Μαρτίου</text>
<text x="850.1" y="26.6" textLength="32.7" lengthAdjust="spacingAndGlyphs">2022</text>
</g>
</svg>
</body></html>
